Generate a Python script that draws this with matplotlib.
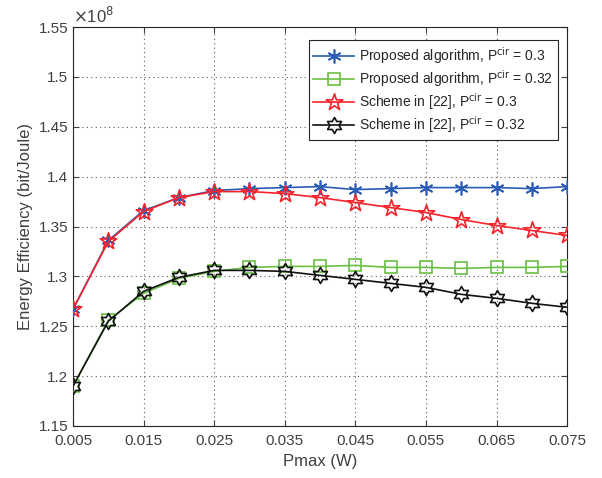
import matplotlib
matplotlib.use("Agg")
import matplotlib.pyplot as plt
from matplotlib.path import Path
import numpy as np

plt.rcParams['font.family'] = ['Liberation Sans', 'DejaVu Sans']

pmax = [0.005, 0.010, 0.015, 0.020, 0.025, 0.030, 0.035, 0.040, 0.045, 0.050, 0.055, 0.060, 0.065, 0.070, 0.075]
# Energy efficiency in units of 1e8 bit/Joule
prop_03 = [1.267, 1.336, 1.366, 1.379, 1.386, 1.388, 1.389, 1.390, 1.387, 1.388, 1.389, 1.389, 1.389, 1.388, 1.390]
prop_032 = [1.190, 1.256, 1.283, 1.298, 1.305, 1.309, 1.310, 1.310, 1.311, 1.309, 1.309, 1.308, 1.309, 1.309, 1.310]
ref_03 = [1.267, 1.335, 1.365, 1.379, 1.385, 1.385, 1.383, 1.379, 1.374, 1.369, 1.364, 1.357, 1.351, 1.346, 1.341]
ref_032 = [1.190, 1.255, 1.285, 1.299, 1.306, 1.306, 1.305, 1.301, 1.297, 1.293, 1.289, 1.282, 1.278, 1.273, 1.269]

labels = ['Proposed algorithm, P$^{\\mathrm{cir}}$ = 0.3',
          'Proposed algorithm, P$^{\\mathrm{cir}}$ = 0.32',
          'Scheme in [22], P$^{\\mathrm{cir}}$ = 0.3',
          'Scheme in [22], P$^{\\mathrm{cir}}$ = 0.32']
xticks = [0.005, 0.015, 0.025, 0.035, 0.045, 0.055, 0.065, 0.075]
yticks = [1.15, 1.2, 1.25, 1.3, 1.35, 1.4, 1.45, 1.5, 1.55]

def star(n, inner):
    p = Path.unit_regular_star(n, inner)
    return Path(p.vertices, p.codes)

pent = star(5, 0.382)
hexa = star(6, 0.577)

fig = plt.figure(figsize=(6.02, 4.78), dpi=100)
ax = fig.add_axes([0.1213, 0.1088, 0.8207, 0.8347])

c_blue = '#2b5cb5'
c_green = '#6abf45'
c_red = '#f5242c'
c_black = '#111111'

ax.plot(pmax, prop_03, color=c_blue, marker=(6, 2, 0), markersize=10, markeredgewidth=1.2,
        linewidth=1.2, label=labels[0], zorder=4)
ax.plot(pmax, prop_032, color=c_green, marker='s', markersize=8.5, markerfacecolor='none',
        markeredgewidth=1.2, linewidth=1.2, label=labels[1], zorder=3)
ax.plot(pmax, ref_03, color=c_red, marker=pent, markersize=12.5, markerfacecolor='none',
        markeredgewidth=1.2, linewidth=1.2, label=labels[2], zorder=5)
ax.plot(pmax, ref_032, color=c_black, marker=hexa, markersize=11.5, markerfacecolor='none',
        markeredgewidth=1.2, linewidth=1.2, label=labels[3], zorder=5)

ax.set_xlim(0.005, 0.075)
ax.set_ylim(1.15, 1.55)
ax.set_xticks(xticks)
ax.set_xticklabels([f'{v:g}' for v in xticks])
ax.set_yticks(yticks)
ax.set_yticklabels([f'{v:g}' for v in yticks])

tc = '#262626'
ax.tick_params(direction='in', top=True, right=True, labelsize=11, colors='#404040', length=4)
ax.tick_params(axis='x', pad=6)
for s in ax.spines.values():
    s.set_color(tc)
    s.set_linewidth(0.8)
ax.grid(True, linestyle=(0, (1, 3)), color='#333333', linewidth=0.8, alpha=0.8)

ax.set_xlabel('Pmax (W)', fontsize=12, color='#404040')
ax.set_ylabel('Energy Efficiency (bit/Joule)', fontsize=12, color='#404040')
ax.text(0.0, 1.003, '$\\times$10$^{8}$', transform=ax.transAxes, fontsize=12, color='#404040',
        ha='left', va='bottom')

leg = ax.legend(loc='upper right', bbox_to_anchor=(0.982, 0.967), borderaxespad=0,
                fontsize=10, fancybox=False, framealpha=1, edgecolor='#262626',
                handlelength=2.9, borderpad=0.35, labelspacing=0.15, handletextpad=0.4)
leg.get_frame().set_linewidth(0.8)
for t in leg.get_texts():
    t.set_color(tc)

fig.savefig('out.png', dpi=100)
